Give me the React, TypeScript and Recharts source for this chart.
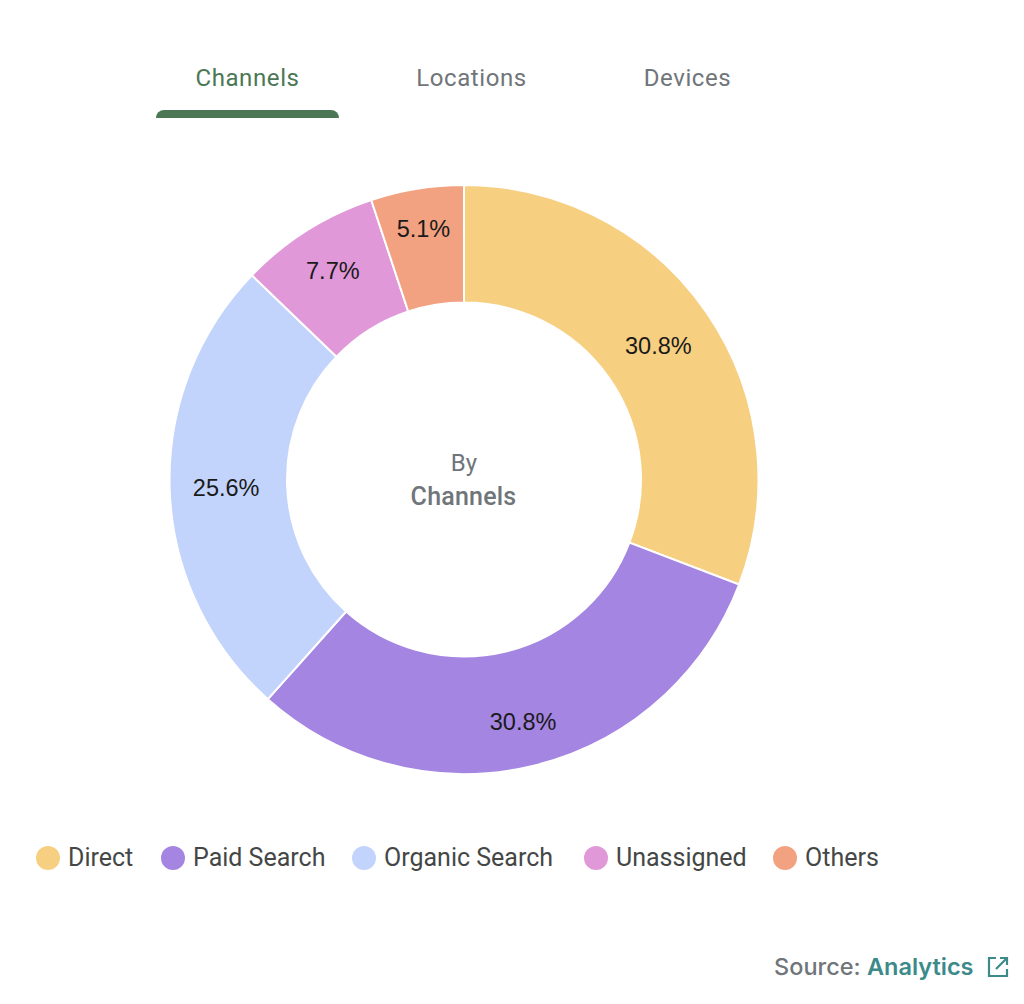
import { PieChart, Pie, Cell, Legend } from 'recharts';

const CHANNELS = ['Direct', 'Paid Search', 'Organic Search', 'Unassigned', 'Others'];
const SHARES = [30.8, 30.8, 25.6, 7.7, 5.1];
const COLORS = ['#f6cf80', '#a485e2', '#c2d4fc', '#e098d8', '#f2a181'];
const TABS = ['Channels', 'Locations', 'Devices'];
const TAB_X = [247.5, 471.5, 687.5];
// the source places each label at its own distance from the centre
const LABEL_RADII = [236, 250, 238, 246, 254];
const LEGEND_X = [0, 125, 316, 548, 737];

const pieData = CHANNELS.map((name, i) => ({ name, value: SHARES[i] }));
const RADIAN = Math.PI / 180;
const FONT = 'Roboto, sans-serif';

function renderLabel({ cx, cy, midAngle, value, index }: any) {
  const r = LABEL_RADII[index];
  const x = cx + r * Math.cos(-midAngle * RADIAN);
  const y = cy + r * Math.sin(-midAngle * RADIAN);
  return (
    <text
      x={x}
      y={y}
      textAnchor="middle"
      dominantBaseline="central"
      fill="#1a1a1a"
      style={{ fontFamily: '"Liberation Sans", Arial, sans-serif', fontSize: 23.5 }}
    >
      {value.toFixed(1)}%
    </text>
  );
}

function renderLegend({ payload }: any) {
  return (
    <div style={{ position: 'relative', height: 30, fontFamily: FONT, fontSize: 25, color: '#444746' }}>
      {payload.map((item: any, i: number) => (
        <div key={item.value} style={{ position: 'absolute', left: LEGEND_X[i], top: 0, display: 'flex', alignItems: 'center', gap: 8, whiteSpace: 'nowrap' }}>
          <span style={{ width: 24, height: 24, borderRadius: '50%', background: item.color, display: 'block' }} />
          <span>{item.value}</span>
        </div>
      ))}
    </div>
  );
}

const absText = (x: number, y: number, extra: any) => ({
  position: 'absolute' as const,
  left: x,
  top: y,
  fontFamily: FONT,
  whiteSpace: 'nowrap' as const,
  lineHeight: 1,
  ...extra,
});

export default function App() {
  return (
    <div style={{ position: 'absolute', left: 0, top: 0, width: 1024, height: 1004, background: '#fff', overflow: 'hidden' }}>
      {TABS.map((tab, i) => (
        <div
          key={tab}
          style={absText(TAB_X[i], 66, {
            transform: 'translateX(-50%)',
            fontSize: 24,
            fontWeight: 400,
            letterSpacing: 0.6,
            color: i === 0 ? '#4b7755' : '#70757a',
          })}
        >
          {tab}
        </div>
      ))}
      <div style={{ position: 'absolute', left: 156, top: 110, width: 183, height: 8, background: '#4b7755', borderRadius: '8px 8px 0 0' }} />

      <PieChart width={1024} height={1004}>
        <Pie
          data={pieData}
          dataKey="value"
          nameKey="name"
          cx={459}
          cy={474.5}
          innerRadius={177}
          outerRadius={294.5}
          startAngle={90}
          endAngle={-270}
          stroke="#fff"
          strokeWidth={2}
          label={renderLabel}
          labelLine={false}
          isAnimationActive={false}
        >
          {pieData.map((d, i) => (
            <Cell key={d.name} fill={COLORS[i]} />
          ))}
        </Pie>
        <Legend
          content={renderLegend}
          itemSorter={null}
          wrapperStyle={{ position: 'absolute', left: 36, top: 843, width: 950, bottom: 'auto' }}
        />
      </PieChart>

      <div style={absText(464, 451, { transform: 'translateX(-50%)', fontSize: 24, color: '#70757a' })}>By</div>
      <div style={absText(463.5, 484, { transform: 'translateX(-50%)', fontSize: 25, fontWeight: 500, letterSpacing: 0.2, color: '#70757a' })}>Channels</div>

      <div style={absText(774, 955, { fontFamily: 'Inter, sans-serif', fontSize: 23.5, fontWeight: 500, color: '#70757a' })}>
        Source: <span style={{ color: '#3c8a8a', fontWeight: 600 }}>Analytics</span>
      </div>
      <svg style={{ position: 'absolute', left: 986, top: 955 }} width={24} height={24} viewBox="0 0 24 24" fill="none" stroke="#3c8a8a" strokeWidth={2.2}>
        <path d="M10 3H3v18h18v-7" />
        <path d="M14 3h7v7M21 3L10 14" />
      </svg>
    </div>
  );
}
